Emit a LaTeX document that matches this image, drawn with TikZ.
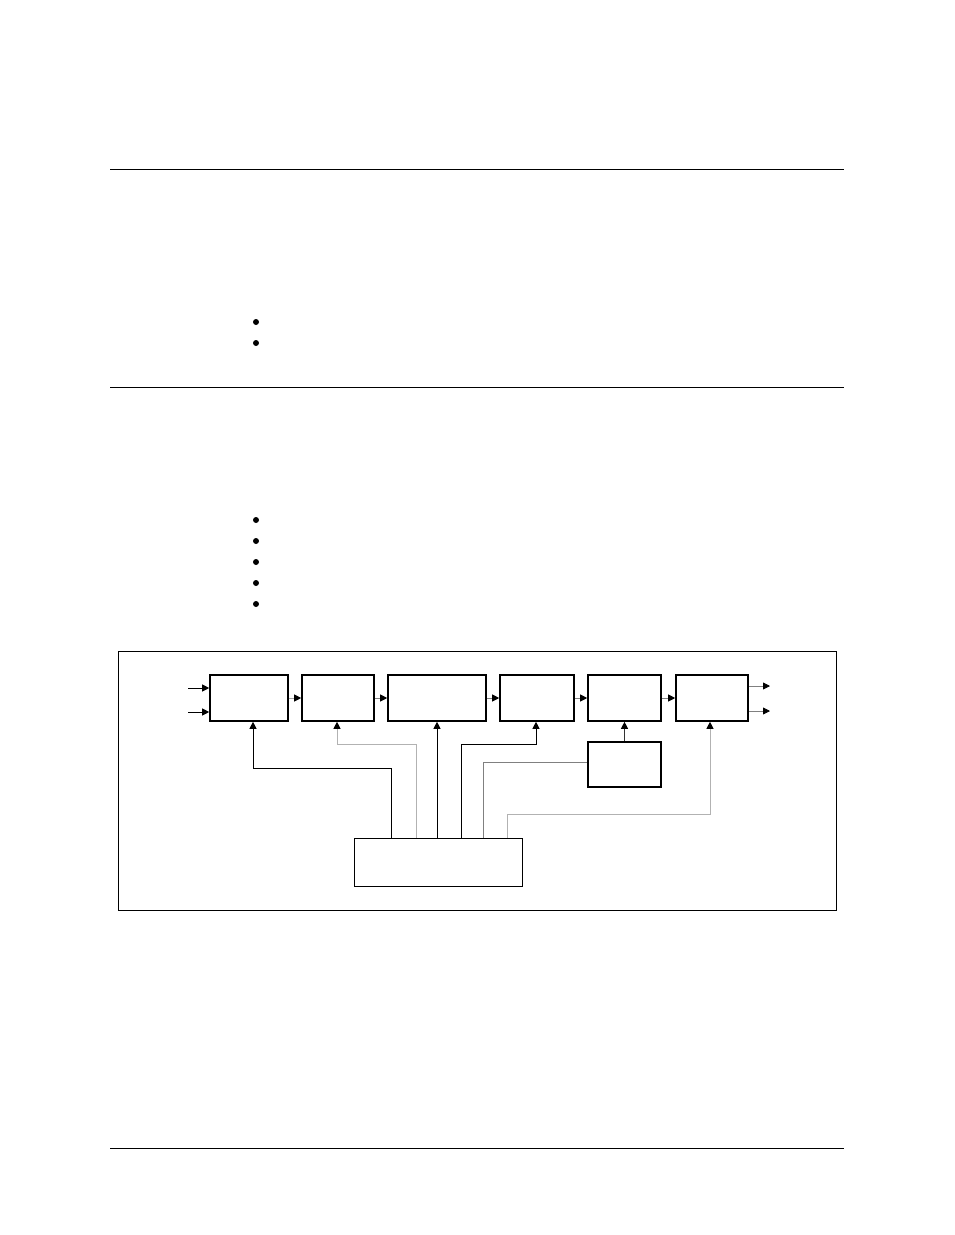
\documentclass[tikz,border=0pt]{standalone}
\usetikzlibrary{arrows.meta}
\begin{document}
\begin{tikzpicture}[x=1pt,y=-1pt,
  blk/.style={draw=black,line width=1.6pt,rectangle,inner sep=0pt,minimum height=46pt},
  ctl/.style={draw=black,line width=0.8pt,rectangle,inner sep=0pt},
  tip/.style={-{Triangle[length=7pt,width=7pt,color=black]}},
  conn/.style={line width=0.8pt,tip},
  rule/.style={line width=1pt}
]
\fill[white] (0,0) rectangle (954,1235);
\useasboundingbox (0,0) rectangle (954,1235);

% page rules
\draw[rule] (110,169) -- (844,169);
\draw[rule] (110,387) -- (844,387);
\draw[rule] (110,1148) -- (844,1148);

% bullets
\foreach \y in {322,343,520,541,562,583,604}
  \fill (256,\y) circle (3);

% frame
\draw[line width=0.9pt] (118,651) rectangle (836,910);

% blocks
\node[blk,minimum width=78pt] (B1) at (249,698) {};
\node[blk,minimum width=72pt] (B2) at (338,698) {};
\node[blk,minimum width=98pt] (B3) at (437,698) {};
\node[blk,minimum width=74pt] (B4) at (537,698) {};
\node[blk,minimum width=73pt] (B5) at (624.5,698) {};
\node[blk,minimum width=72pt] (B6) at (712,698) {};
\node[blk,minimum width=73pt,minimum height=45pt] (L) at (624.5,764.5) {};
\node[ctl,minimum width=168pt,minimum height=48pt] (C) at (438,862) {};

% inputs / outputs
\coordinate (in1) at (188,688);
\coordinate (in2) at (188,712);
\coordinate (out1) at (770,686);
\coordinate (out2) at (770,711);
\draw[conn] (in1) -- (B1.west |- in1);
\draw[conn] (in2) -- (B1.west |- in2);
\draw[conn,gray] (B6.east |- out1) -- (out1);
\draw[conn,gray] (B6.east |- out2) -- (out2);

% chain
\draw[conn,gray!70] (B1.east) -- (B2.west);
\draw[conn,gray] (B2.east) -- (B3.west);
\draw[conn,gray] (B3.east) -- (B4.west);
\draw[conn,gray] (B4.east) -- (B5.west);
\draw[conn,gray] (B5.east) -- (B6.west);
\draw[conn,black!80] (L.north) -- (B5.south);

% control lines
\draw[conn] ([xshift=38pt]C.north west) -- ++(0,-69) -| ([xshift=4pt]B1.south);
\draw[conn,black!30] ([xshift=63pt]C.north west) -- ++(0,-93) -| ([xshift=-1pt]B2.south);
\draw[conn] (C.north -| B3.south) -- (B3.south);
\draw[conn] ([xshift=108pt]C.north west) -- ++(0,-93) -| ([xshift=-1pt]B4.south);
\draw[line width=0.8pt,black!50] ([xshift=130pt]C.north west) |- ([yshift=2pt]L.west);
\draw[conn,black!30] ([xshift=154pt]C.north west) -- ++(0,-23) -| ([xshift=-2pt]B6.south);
\end{tikzpicture}
\end{document}
